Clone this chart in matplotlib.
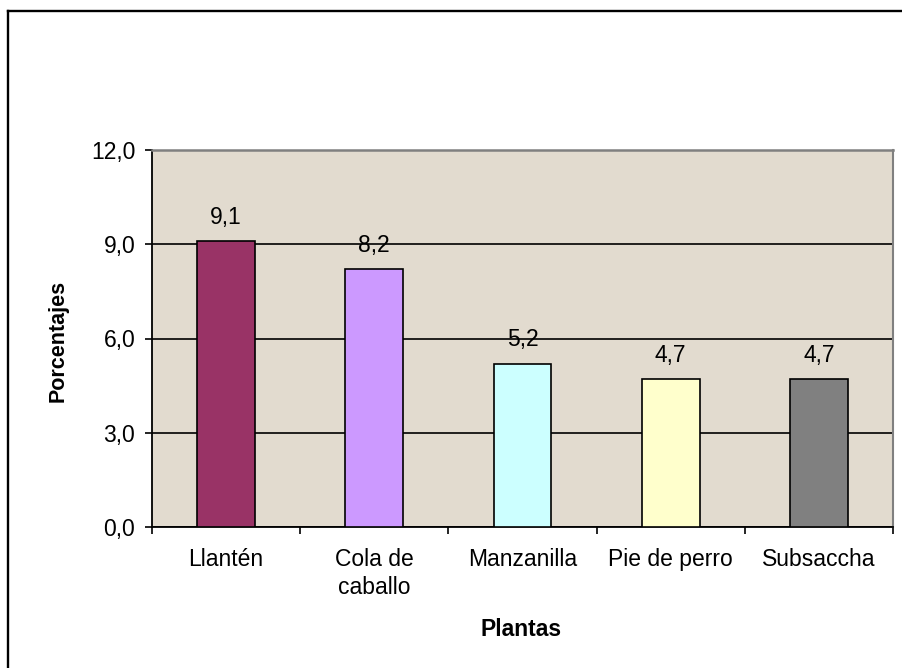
import matplotlib
matplotlib.use("Agg")
import matplotlib.pyplot as plt
from matplotlib.lines import Line2D
from matplotlib.ticker import FixedLocator, FuncFormatter

plantas = ["Llantén", "Cola de\ncaballo", "Manzanilla", "Pie de perro", "Subsaccha"]
porcentajes = [9.1, 8.2, 5.2, 4.7, 4.7]
colores = ["#993366", "#CC99FF", "#CCFFFF", "#FFFFCC", "#808080"]
y_ticks = [0, 3, 6, 9, 12]

plt.rcParams['font.family'] = ['Liberation Sans', 'DejaVu Sans']

fig = plt.figure(figsize=(9.02, 6.68), dpi=100)
ax = fig.add_axes([152/902, 1-527/668, (893-152)/902, (527-150)/668])
ax.set_facecolor("#E2DBCF")

x = range(len(plantas))
bars = ax.bar(x, porcentajes, width=0.39, color=colores, edgecolor="black",
              linewidth=1.2, zorder=3)

for b, v in zip(bars, porcentajes):
    ax.annotate(f"{v:.1f}".replace(".", ","), (b.get_x() + b.get_width()/2, v),
                xytext=(0, 9), textcoords="offset points", ha="center", va="bottom",
                fontsize=16.5)

ax.set_xlim(-0.5, len(plantas) - 0.5)
ax.set_ylim(0, 12)
ax.set_yticks(y_ticks)
ax.yaxis.set_major_formatter(FuncFormatter(lambda v, p: f"{v:.1f}".replace(".", ",")))
ax.yaxis.grid(True, color="black", linewidth=1.2, zorder=1)

ax.set_xticks(list(x))
ax.set_xticklabels(plantas, fontsize=16.5, linespacing=1.3)
ax.xaxis.set_minor_locator(FixedLocator([i - 0.5 for i in range(len(plantas) + 1)]))
ax.tick_params(axis="x", which="major", length=0, pad=15)
ax.tick_params(axis="x", which="minor", length=5, width=1.2, direction="out")
ax.tick_params(axis="y", length=5, width=1.2, direction="out", pad=7, labelsize=16.5)

ax.spines["left"].set_linewidth(1.3)
ax.spines["bottom"].set_linewidth(1.3)
ax.spines["top"].set_color("#808080")
ax.spines["right"].set_color("#808080")
ax.spines["top"].set_linewidth(1.8)
ax.spines["right"].set_linewidth(1.5)

fig.text(58/902, 1-341/668, "Porcentajes", rotation=90, ha="center", va="center",
         fontsize=15.5, fontweight="bold")
fig.text(521/902, 1-630/668, "Plantas", ha="center", va="center",
         fontsize=16.5, fontweight="bold")

# marco del grafico (solo borde izquierdo y superior visibles)
fig.add_artist(Line2D([8/902, 8/902], [0, 1-11/668], color="black", linewidth=1.7,
                      transform=fig.transFigure))
fig.add_artist(Line2D([8/902, 1], [1-11/668, 1-11/668], color="black", linewidth=1.7,
                      transform=fig.transFigure))

fig.savefig("out.png", dpi=100)
